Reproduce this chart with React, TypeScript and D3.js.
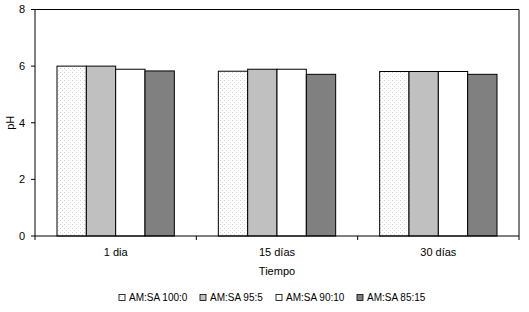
import React from "react";
import * as d3 from "d3";

const categories = ["1 dia", "15 días", "30 días"];
const seriesNames = ["AM:SA 100:0", "AM:SA 95:5", "AM:SA 90:10", "AM:SA 85:15"];
const s1 = [6.0, 5.82, 5.81];
const s2 = [6.0, 5.89, 5.81];
const s3 = [5.89, 5.89, 5.81];
const s4 = [5.83, 5.71, 5.71];
const yTicks = [0, 2, 4, 6, 8];
const seriesValues = [s1, s2, s3, s4];
const fills = ["url(#dots)", "#c0c0c0", "#ffffff", "#808080"];

export default function App() {
  const W = 529, H = 312;
  const left = 35, right = 519, top = 9.5, bottom = 236;
  const x0 = d3.scaleBand().domain(categories).range([left, right]).paddingInner(0).paddingOuter(0);
  const y = d3.scaleLinear().domain([0, 8]).range([bottom, top]);
  const groupW = x0.bandwidth();
  const barW = groupW / (4 + 1.5);
  const font = "Liberation Sans, Arial, sans-serif";
  const legendX = [119, 200, 276, 357];
  return (
    <svg width={W} height={H} style={{ position: "absolute", left: 0, top: 0, background: "#fff" }}>
      <defs>
        <pattern id="dots" width="4" height="4" patternUnits="userSpaceOnUse">
          <rect width="4" height="4" fill="#ffffff" />
          <rect x="0" y="0" width="1" height="1" fill="#cfcfcf" />
          <rect x="2" y="2" width="1" height="1" fill="#d8d8d8" />
        </pattern>
      </defs>
      <rect x={0} y={0} width={W} height={H} fill="#fff" />
      {categories.map((c, i) =>
        seriesValues.map((vals, s) => {
          const bx = (x0(c) as number) + barW * 0.75 + s * barW;
          return (
            <rect key={c + s} x={bx} y={y(vals[i])} width={barW} height={bottom - y(vals[i])}
              fill={fills[s]} stroke="#000" strokeWidth={1} />
          );
        })
      )}
      <line x1={left} x2={right} y1={top} y2={top} stroke="#000" />
      <line x1={right} x2={right} y1={top} y2={bottom} stroke="#000" />
      <line x1={left} x2={left} y1={top} y2={bottom} stroke="#000" />
      <line x1={left} x2={right} y1={bottom} y2={bottom} stroke="#000" />
      {yTicks.map((t) => (
        <g key={t}>
          <line x1={left - 4} x2={left} y1={y(t)} y2={y(t)} stroke="#000" />
          <text x={left - 10} y={y(t)} dy="0.35em" textAnchor="end" fontFamily={font} fontSize={11}>{t}</text>
        </g>
      ))}
      {[0, 1, 2, 3].map((k) => {
        const xx = left + k * groupW;
        return <line key={k} x1={xx} x2={xx} y1={bottom} y2={bottom + 4} stroke="#000" />;
      })}
      {categories.map((c) => (
        <text key={c} x={(x0(c) as number) + groupW / 2} y={256} textAnchor="middle" fontFamily={font} fontSize={11}>{c}</text>
      ))}
      <text x={(left + right) / 2} y={275} textAnchor="middle" fontFamily={font} fontSize={11}>Tiempo</text>
      <text transform={`translate(14,${(top + bottom) / 2}) rotate(-90)`} textAnchor="middle" fontFamily={font} fontSize={11}>pH</text>
      {seriesNames.map((n, s) => (
        <g key={n}>
          <rect x={legendX[s]} y={294.5} width={6} height={6} fill={fills[s]} stroke="#000" strokeWidth={0.8} />
          <text x={legendX[s] + 10} y={301} fontFamily={font} fontSize={10}>{n}</text>
        </g>
      ))}
    </svg>
  );
}
